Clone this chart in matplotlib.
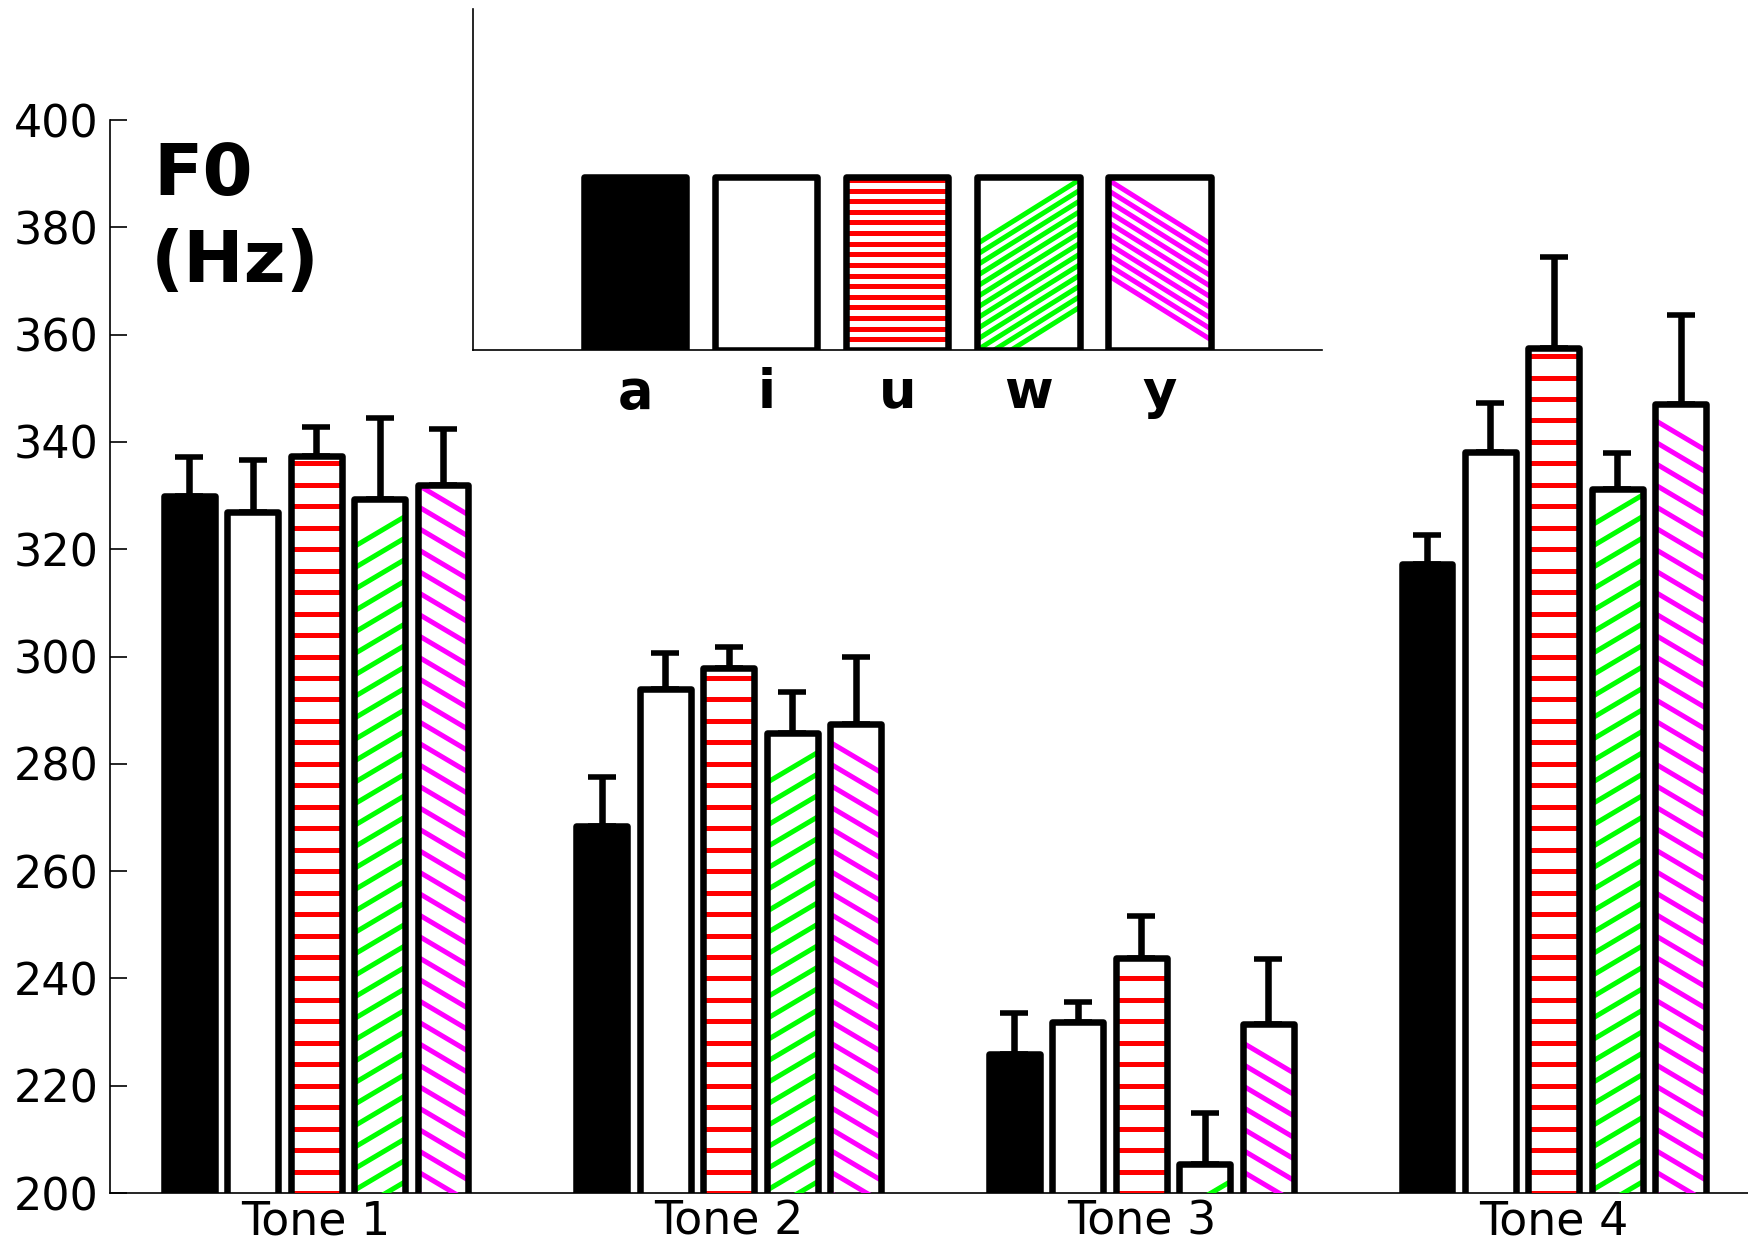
import numpy as np
import matplotlib
matplotlib.use('Agg')
from matplotlib import pyplot as plt

plt.rcParams['font.family'] = ['DejaVu Sans']

# F0 means (Hz) per vowel, for Tone 1..4
tones = ['Tone 1', 'Tone 2', 'Tone 3', 'Tone 4']
vowels = ['a', 'i', 'u', 'w', 'y']
f0_a = [330.0, 268.5, 226.0, 317.2]
f0_i = [327.0, 293.9, 231.9, 338.1]
f0_u = [337.4, 297.8, 243.9, 357.6]
f0_w = [329.4, 285.7, 205.5, 331.2]
f0_y = [332.0, 287.4, 231.5, 347.0]
# upper error bars (Hz)
err_a = [7.1, 9.0, 7.5, 5.5]
err_i = [9.7, 6.8, 3.7, 9.1]
err_u = [5.3, 3.9, 7.7, 16.9]
err_w = [15.1, 7.6, 9.5, 6.8]
err_y = [10.4, 12.6, 12.1, 16.7]

means = [f0_a, f0_i, f0_u, f0_w, f0_y]
errs = [err_a, err_i, err_u, err_w, err_y]
faces = ['black', 'white', 'white', 'white', 'white']
hatches = [None, None, 'h', 'up', 'down']
hatch_cols = {'h': '#ff0000', 'up': '#00ff00', 'down': '#ff00ff'}

edge_lw = 4.7
hatch_lw = 3.6


def draw_hatch(ax, xc, w, top, kind, step, rise, green_off, bottom):
    x0, x1 = xc - w / 2, xc + w / 2
    col = hatch_cols[kind]
    segs = []
    if kind == 'h':
        for yy in np.arange(bottom, top + 1e-9, step):
            segs.append(([x0, x1], [yy, yy]))
    elif kind == 'up':
        for yl in np.arange(bottom + green_off - step * 2, top, step):
            if yl + rise <= top + 1e-9:
                segs.append(([x0, x1], [yl, yl + rise]))
    else:
        for yl in np.arange(bottom, top + 1e-9, step):
            if bottom == 0 and yl - rise < 0 and step < 1:
                continue
            segs.append(([x0, x1], [yl, yl - rise]))
    for xs, ys in segs:
        ax.plot(xs, ys, color=col, lw=hatch_lw, solid_capstyle='butt', zorder=3)


fig = plt.figure(figsize=(17.48, 12.49), dpi=100)

# ---- main chart ----
ax = fig.add_axes([0.0629, 0.0448, 0.944, 0.8591])
groups = np.arange(1, len(tones) + 1)
spacing = 0.1538
width = 0.123
for k in range(5):
    xs = groups + (k - 2) * spacing
    ax.bar(xs, means[k], width=width, color=faces[k], edgecolor='none', zorder=2)
    if hatches[k]:
        for xc, top in zip(xs, means[k]):
            draw_hatch(ax, xc, width, top, hatches[k], 4.0, 5.6, 0.5, 184.0)
    ax.bar(xs, means[k], width=width, fill=False, edgecolor='black',
           linewidth=edge_lw, joinstyle='round', zorder=4)
    ax.errorbar(xs, means[k], yerr=[np.zeros(4), errs[k]], fmt='none',
                ecolor='black', elinewidth=4.7, capsize=10, capthick=4, zorder=5)

ax.set_xlim(0.5, 4.5)
ax.set_ylim(200, 400)
ax.set_yticks(np.arange(200, 401, 20))
ax.set_xticks(groups)
ax.set_xticklabels(tones)
for s in ['top', 'right']:
    ax.spines[s].set_visible(False)
for s in ['left', 'bottom']:
    ax.spines[s].set_linewidth(1.2)
ax.tick_params(axis='y', direction='in', length=12, width=1.2, labelsize=32, pad=8)
ax.tick_params(axis='x', direction='in', length=11, width=1.2, labelsize=33, pad=5)

fig.text(0.088, 0.8439, 'F0', fontsize=52, fontweight='bold', va='baseline')
fig.text(0.086, 0.7745, '(Hz)', fontsize=52, fontweight='bold', va='baseline')

# ---- legend inset ----
lg = fig.add_axes([0.2704, 0.7198, 0.4859, 0.2731])
lx = np.arange(1, 6)
lw_bar = 0.78
for k in range(5):
    lg.bar(lx[k], 1.0, width=lw_bar, color=faces[k], edgecolor='none', zorder=2)
    if hatches[k]:
        draw_hatch(lg, lx[k], lw_bar, 1.0, hatches[k], 0.0615, 0.37, 0.0, 0.0)
    lg.bar(lx[k], 1.0, width=lw_bar, fill=False, edgecolor='black',
           linewidth=edge_lw, joinstyle='round', zorder=4)
lg.set_xlim(-0.24, 6.24)
lg.set_ylim(0, 1.974)
lg.set_xticks(lx)
lg.set_xticklabels(vowels, fontsize=38, fontweight='bold')
lg.set_yticks([])
for s in ['top', 'right']:
    lg.spines[s].set_visible(False)
for s in ['left', 'bottom']:
    lg.spines[s].set_linewidth(1.2)
lg.tick_params(axis='x', direction='in', length=5, width=1.2, pad=12)
lg.patch.set_alpha(0)

fig.savefig('out.png', dpi=100)
